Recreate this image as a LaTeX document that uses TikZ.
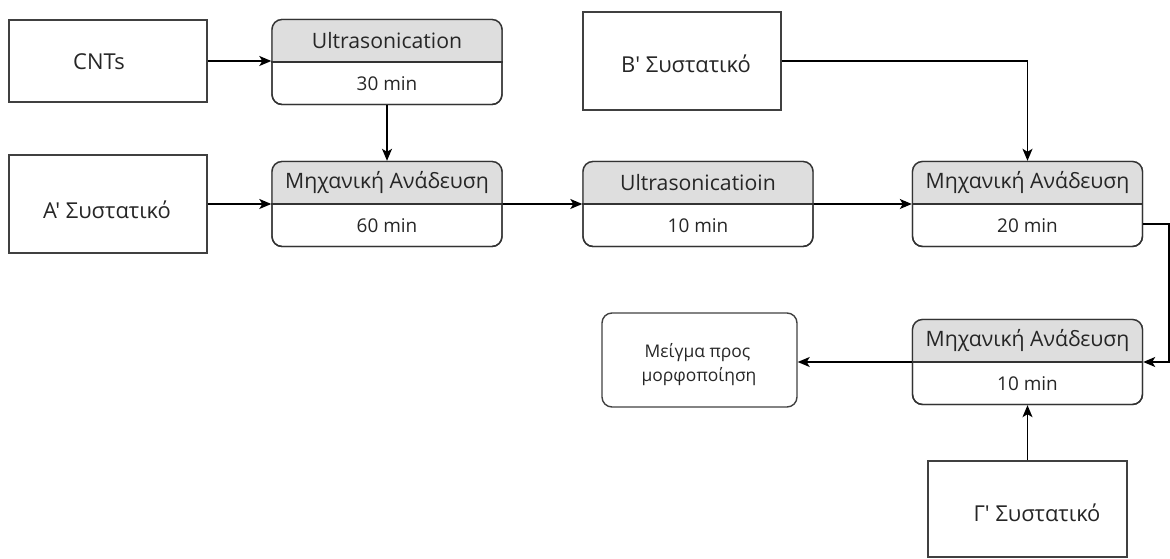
\documentclass[tikz,border=0pt]{standalone}
\usepackage{fontspec}
\newfontfamily\osans{Open Sans}
\usetikzlibrary{arrows.meta,calc}
\newcommand{\procbox}[4]{%
  \node[proc] (#1) at (#2) {};
  \begin{scope}
    \clip[rounded corners=10bp] (#1.south west) rectangle (#1.north east);
    \fill[hdrfill] (#1.north west) rectangle (#1.east);
  \end{scope}
  \draw[edge] (#1.west) -- (#1.east);
  \node[proc] (#1-b) at (#1.center) {};
  \node[hdr] (#1-h) at ($(#1.north)!0.5!(#1.center)$) {#3};
  \node[tm] (#1-t) at ($(#1.south)!0.5!(#1.center)$) {#4};
}
\begin{document}
\begin{tikzpicture}[x=1bp,y=-1bp,
  edge/.style={draw=black!80, line width=1.4bp},
  plain/.style={draw=black!75, line width=1.4bp, rectangle, inner sep=0pt},
  proc/.style={draw=black!80, line width=1.4bp, rectangle, rounded corners=10bp, minimum width=230bp, minimum height=85bp, inner sep=0pt},
  hdrfill/.style={fill=black!13},
  conn/.style={draw=black, line width=1.3bp, -{Stealth[length=12bp,width=10bp,inset=3bp]}},
  big/.style={font=\osans\fontsize{22}{26}\selectfont, text=black!85},
  hdr/.style={font=\osans\fontsize{21.3}{25}\selectfont, text=black!85},
  tm/.style={font=\osans\fontsize{19}{22}\selectfont, text=black!85},
  mixtext/.style={text=black!85, font=\osans\fontsize{17.5}{21}\selectfont},
]
\useasboundingbox (0,0) rectangle (1170,559);

% plain boxes
\node[plain, minimum width=198bp, minimum height=82bp] (cnt) at (108,61) {};
\node[big] (cnt-l) at (99,62) {CNTs};
\node[plain, minimum width=198bp, minimum height=98bp] (a) at (108,204) {};
\node[big] (a-l) at (107,210) {A' Συστατικό};
\node[plain, minimum width=198bp, minimum height=98bp] (b) at (682,61) {};
\node[big] (b-l) at (686,64) {B' Συστατικό};
\node[plain, minimum width=199bp, minimum height=96bp] (g) at (1027.5,509) {};
\node[big] (g-l) at (1037,513) {Γ' Συστατικό};
\node[plain, rounded corners=10bp, minimum width=195bp, minimum height=94bp] (mix) at (699.5,360) {};
\node[mixtext] (mix-l1) at (697.5,353) {Μείγμα προς};
\node[mixtext] (mix-l2) at (699,377) {μορφοποίηση};

% process boxes
\procbox{us1}{387,62}{Ultrasonication}{30 min}
\procbox{m1}{387,204}{Μηχανική Ανάδευση}{60 min}
\procbox{us2}{698,204}{Ultrasonicatioin}{10 min}
\procbox{m2}{1027.5,204}{Μηχανική Ανάδευση}{20 min}
\procbox{m3}{1027.5,362}{Μηχανική Ανάδευση}{10 min}

% connectors
\coordinate (r1) at (1169,224);
\coordinate (r2) at (1169,362);
\draw[conn] (cnt.east) -- (cnt.east -| us1.west);
\draw[conn] (us1.south) -- (m1.north);
\draw[conn] (a.east) -- (m1.west);
\draw[conn] (m1.east) -- (us2.west);
\draw[conn] (us2.east) -- (m2.west);
\draw[conn] (b.east) -- (b.east -| m2.north) -- (m2.north);
\draw[conn] (r1 -| m2.east) -- (r1) -- (r2) -- (m3.east);
\draw[conn] (m3.west) -- (m3.west -| mix.east);
\draw[conn] (g.north) -- (m3.south);
\end{tikzpicture}
\end{document}
